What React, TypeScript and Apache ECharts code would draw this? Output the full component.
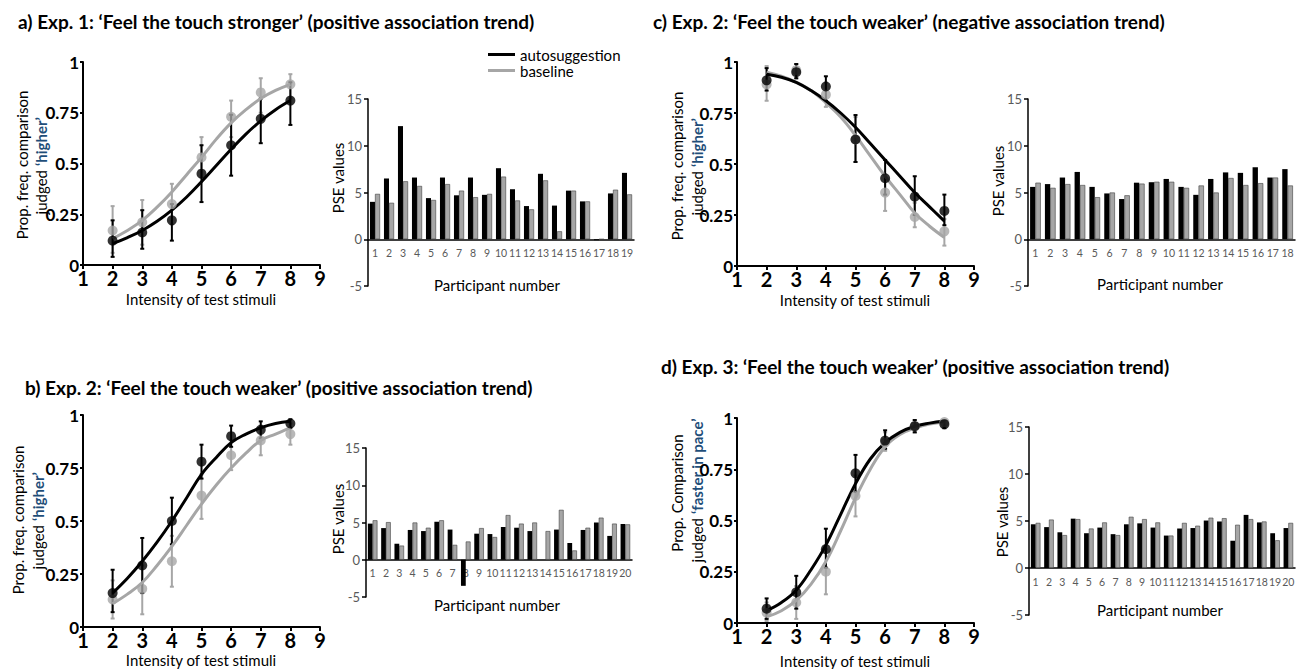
import React, { useEffect, useRef } from "react";
import * as echarts from "echarts";

// ---------- data ----------
const intensity = [2, 3, 4, 5, 6, 7, 8];
const fitX = [2, 2.5, 3, 3.5, 4, 4.5, 5, 5.5, 6, 6.5, 7, 7.5, 8];
const xTicks = [1, 2, 3, 4, 5, 6, 7, 8, 9];

// panel a (Exp. 1, stronger, positive)
const aAutoMean = [0.12, 0.16, 0.22, 0.45, 0.59, 0.72, 0.81];
const aAutoLo = [0.04, 0.08, 0.12, 0.31, 0.44, 0.6, 0.69];
const aAutoHi = [0.22, 0.27, 0.3, 0.59, 0.74, 0.82, 0.9];
const aBaseMean = [0.17, 0.21, 0.3, 0.53, 0.73, 0.85, 0.89];
const aBaseLo = [0.06, 0.1, 0.2, 0.43, 0.63, 0.75, 0.82];
const aBaseHi = [0.29, 0.32, 0.4, 0.63, 0.81, 0.92, 0.94];
const aAutoFit = [0.105, 0.135, 0.17, 0.215, 0.27, 0.335, 0.41, 0.49, 0.57, 0.645, 0.71, 0.765, 0.81];
const aBaseFit = [0.13, 0.17, 0.22, 0.285, 0.36, 0.445, 0.53, 0.62, 0.7, 0.765, 0.82, 0.86, 0.89];

// panel c (Exp. 2, weaker, negative)
const cAutoMean = [0.91, 0.95, 0.88, 0.62, 0.43, 0.34, 0.27];
const cAutoLo = [0.86, 0.92, 0.81, 0.51, 0.35, 0.25, 0.2];
const cAutoHi = [0.97, 0.99, 0.93, 0.74, 0.52, 0.44, 0.35];
const cBaseMean = [0.89, 0.96, 0.84, 0.62, 0.36, 0.24, 0.17];
const cBaseLo = [0.81, 0.92, 0.78, 0.51, 0.27, 0.19, 0.1];
const cBaseHi = [0.98, 0.99, 0.9, 0.73, 0.45, 0.31, 0.23];
const cAutoFit = [0.94, 0.925, 0.9, 0.86, 0.81, 0.75, 0.68, 0.6, 0.52, 0.44, 0.36, 0.29, 0.22];
const cBaseFit = [0.95, 0.93, 0.9, 0.86, 0.8, 0.73, 0.64, 0.54, 0.44, 0.35, 0.26, 0.195, 0.14];

// panel b (Exp. 2, weaker, positive)
const bAutoMean = [0.16, 0.29, 0.5, 0.78, 0.9, 0.93, 0.96];
const bAutoLo = [0.07, 0.16, 0.39, 0.7, 0.85, 0.89, 0.94];
const bAutoHi = [0.27, 0.42, 0.61, 0.86, 0.95, 0.97, 0.98];
const bBaseMean = [0.13, 0.18, 0.31, 0.62, 0.81, 0.88, 0.91];
const bBaseLo = [0.04, 0.06, 0.19, 0.51, 0.74, 0.81, 0.86];
const bBaseHi = [0.22, 0.29, 0.43, 0.72, 0.88, 0.95, 0.96];
const bAutoFit = [0.16, 0.23, 0.31, 0.4, 0.5, 0.61, 0.72, 0.8, 0.87, 0.91, 0.94, 0.96, 0.97];
const bBaseFit = [0.11, 0.155, 0.21, 0.29, 0.38, 0.48, 0.58, 0.67, 0.75, 0.82, 0.88, 0.91, 0.94];

// panel d (Exp. 3, weaker, positive)
const dAutoMean = [0.07, 0.15, 0.36, 0.73, 0.89, 0.96, 0.97];
const dAutoLo = [0.02, 0.07, 0.27, 0.64, 0.85, 0.93, 0.95];
const dAutoHi = [0.12, 0.23, 0.46, 0.82, 0.94, 0.99, 0.99];
const dBaseMean = [0.05, 0.1, 0.25, 0.62, 0.88, 0.96, 0.98];
const dBaseLo = [0.01, 0.02, 0.14, 0.52, 0.84, 0.93, 0.96];
const dBaseHi = [0.1, 0.18, 0.36, 0.72, 0.93, 0.99, 0.99];
const dAutoFit = [0.06, 0.1, 0.16, 0.26, 0.38, 0.53, 0.68, 0.8, 0.88, 0.93, 0.96, 0.975, 0.985];
const dBaseFit = [0.03, 0.06, 0.11, 0.19, 0.3, 0.45, 0.61, 0.75, 0.86, 0.92, 0.95, 0.97, 0.98];

// PSE bar data
const aParticipants = ["1","2","3","4","5","6","7","8","9","10","11","12","13","14","15","16","17","18","19"];
const aPseAuto = [4.0, 6.5, 12.1, 6.6, 4.4, 6.6, 4.7, 6.6, 4.75, 7.6, 5.35, 3.55, 7.0, 3.6, 5.2, 4.05, -0.1, 4.9, 7.1];
const aPseBase = [4.85, 3.9, 6.2, 5.7, 4.2, 5.9, 5.2, 4.5, 4.85, 6.7, 4.15, 3.2, 6.3, 0.85, 5.2, 4.05, 0.0, 5.3, 4.8];

const cParticipants = ["1","2","3","4","5","6","7","8","9","10","11","12","13","14","15","16","17","18"];
const cPseAuto = [5.6, 5.9, 6.6, 7.2, 5.6, 4.9, 4.3, 6.05, 6.1, 6.45, 5.6, 4.75, 6.45, 7.15, 7.1, 7.7, 6.6, 7.5];
const cPseBase = [6.05, 5.5, 5.9, 5.8, 4.5, 5.0, 4.7, 5.95, 6.15, 6.15, 5.5, 5.75, 5.0, 6.55, 5.8, 6.0, 6.6, 5.75];

const bParticipants = ["1","2","3","4","5","6","7","8","9","10","11","12","13","14","15","16","17","18","19","20"];
const bPseAuto = [4.85, 4.25, 2.15, 4.0, 3.85, 5.1, 4.05, -3.5, 3.5, 3.45, 4.4, 4.3, 3.85, 0, 4.05, 2.25, 4.0, 5.0, 3.2, 4.8];
const bPseBase = [5.3, 5.05, 1.9, 5.0, 4.3, 5.3, 2.0, 2.45, 4.25, 3.05, 6.0, 4.85, 5.0, 3.85, 6.7, 1.25, 4.3, 5.65, 4.85, 4.75];

const dParticipants = ["1","2","3","4","5","6","7","8","9","10","11","12","13","14","15","16","17","18","19","20"];
const dPseAuto = [4.65, 4.35, 3.8, 5.25, 3.7, 4.3, 3.6, 4.65, 4.75, 4.3, 3.45, 4.2, 4.25, 5.05, 4.95, 2.9, 5.65, 4.85, 3.7, 4.25];
const dPseBase = [4.8, 5.15, 3.5, 5.2, 4.2, 4.85, 3.5, 5.45, 5.2, 4.85, 3.45, 4.8, 4.5, 5.35, 5.3, 4.6, 5.2, 4.95, 2.95, 4.8];

const titles = [
  "a) Exp. 1: \u2018Feel the touch stronger\u2019 (positive association trend)",
  "c) Exp. 2: \u2018Feel the touch weaker\u2019 (negative association trend)",
  "b) Exp. 2: \u2018Feel the touch weaker\u2019 (positive association trend)",
  "d) Exp. 3: \u2018Feel the touch weaker\u2019 (positive association trend)",
];

// ---------- styles ----------
const BLACK = "#000000";
const GRAY = "#a6a6a6";
const FONT = "Lato, 'Open Sans', sans-serif";
const BLUE = "#1f4e79";

const zip = (xs: number[], ys: number[]) => xs.map((x, i) => [x, ys[i]]);
const zip3 = (xs: number[], lo: number[], hi: number[]) => xs.map((x, i) => [x, lo[i], hi[i]]);

function errorSeries(idx: number, lo: number[], hi: number[], color: string, z: number) {
  return {
    type: "custom",
    xAxisIndex: idx,
    yAxisIndex: idx,
    z,
    silent: true,
    data: zip3(intensity, lo, hi),
    renderItem: (params: any, api: any) => {
      const x = api.value(0);
      const p1 = api.coord([x, api.value(1)]);
      const p2 = api.coord([x, api.value(2)]);
      const cw = 2;
      const st = { stroke: color, lineWidth: 2 };
      return {
        type: "group",
        children: [
          { type: "line", shape: { x1: p1[0], y1: p1[1], x2: p2[0], y2: p2[1] }, style: st },
          { type: "line", shape: { x1: p1[0] - cw, y1: p1[1], x2: p1[0] + cw, y2: p1[1] }, style: st },
          { type: "line", shape: { x1: p2[0] - cw, y1: p2[1], x2: p2[0] + cw, y2: p2[1] }, style: st },
        ],
      };
    },
  };
}

function curveSeries(
  idx: number,
  autoMean: number[], autoLo: number[], autoHi: number[], autoFit: number[],
  baseMean: number[], baseLo: number[], baseHi: number[], baseFit: number[]
) {
  return [
    errorSeries(idx, baseLo, baseHi, GRAY, 3),
    errorSeries(idx, autoLo, autoHi, BLACK, 4),
    {
      type: "line", name: "baseline", xAxisIndex: idx, yAxisIndex: idx, z: 5,
      data: zip(fitX, baseFit), smooth: 0.4,
      showSymbol: false, color: GRAY, lineStyle: { color: GRAY, width: 3 },
    },
    {
      type: "line", name: "autosuggestion", xAxisIndex: idx, yAxisIndex: idx, z: 6,
      data: zip(fitX, autoFit), smooth: 0.4,
      showSymbol: false, color: BLACK, lineStyle: { color: BLACK, width: 3 },
    },
    {
      type: "scatter", name: "base pts", xAxisIndex: idx, yAxisIndex: idx, z: 7,
      data: zip(intensity, baseMean), symbolSize: 10, itemStyle: { color: GRAY },
    },
    {
      type: "scatter", name: "auto pts", xAxisIndex: idx, yAxisIndex: idx, z: 8,
      data: zip(intensity, autoMean), symbolSize: 10, itemStyle: { color: BLACK },
    },
  ];
}

function barSeries(idx: number, auto: number[], base: number[]) {
  return [
    {
      type: "bar", name: "PSE auto", xAxisIndex: idx, yAxisIndex: idx, data: auto,
      barWidth: "36%", barGap: "0%", itemStyle: { color: BLACK },
    },
    {
      type: "bar", name: "PSE base", xAxisIndex: idx, yAxisIndex: idx, data: base,
      barWidth: "36%", barGap: "0%",
      itemStyle: { color: GRAY, borderColor: "#404040", borderWidth: 0.6 },
    },
  ];
}

const curveGrids = [
  { left: 83, top: 62, width: 237, height: 203 },
  { left: 737, top: 62, width: 237, height: 204 },
  { left: 83, top: 415, width: 237, height: 212 },
  { left: 737, top: 418, width: 237, height: 205 },
];
const barGrids = [
  { left: 368, top: 99, width: 266, height: 187 },
  { left: 1028, top: 99, width: 267, height: 187 },
  { left: 366, top: 448, width: 266, height: 149 },
  { left: 1029, top: 427, width: 266, height: 188 },
];

function curveXAxis(i: number) {
  return {
    type: "value", gridIndex: i, min: xTicks[0], max: xTicks[xTicks.length - 1], interval: 1,
    axisLine: { show: true, onZero: false, lineStyle: { color: BLACK, width: 2 } },
    axisTick: { show: true, length: 4, lineStyle: { color: BLACK, width: 2 } },
    axisLabel: { color: BLACK, fontSize: 20, fontWeight: "bold", fontFamily: FONT, margin: 3 },
    splitLine: { show: false },
  };
}
function curveYAxis(i: number) {
  return {
    type: "value", gridIndex: i, min: 0, max: 1, interval: 0.25,
    axisLine: { show: true, onZero: false, lineStyle: { color: BLACK, width: 2 } },
    axisTick: { show: true, length: 3, lineStyle: { color: BLACK, width: 2 } },
    axisLabel: { color: BLACK, fontSize: 17, fontWeight: "bold", fontFamily: FONT, margin: 4 },
    splitLine: { show: false },
  };
}
function barXAxis(i: number, cats: string[], gridHeight: number) {
  // zero sits one quarter of the way up a -5..15 axis
  return {
    type: "category", gridIndex: i, data: cats,
    offset: -gridHeight / 4,
    axisLine: { show: true, onZero: false, lineStyle: { color: BLACK, width: 1.5 } },
    axisTick: { show: false },
    axisLabel: { color: "#595959", fontSize: 10.5, fontFamily: FONT, margin: 8, interval: 0 },
    splitLine: { show: false },
  };
}
function barYAxis(i: number) {
  return {
    type: "value", gridIndex: i, min: -5, max: 15, interval: 5,
    axisLine: { show: true, onZero: false, lineStyle: { color: BLACK, width: 1.5 } },
    axisTick: { show: true, length: 4, lineStyle: { color: BLACK, width: 1.5 } },
    axisLabel: { color: "#595959", fontSize: 13, fontFamily: FONT, margin: 6 },
    splitLine: { show: false },
  };
}

function txt(x: number, y: number, text: string, size: number, opts: any = {}) {
  return {
    type: "text", x, y, rotation: opts.rotation || 0, silent: true,
    style: {
      text, fontSize: size, fontFamily: FONT, fill: opts.color || BLACK,
      fontWeight: opts.bold ? "bold" : "normal",
      align: opts.align || "center", verticalAlign: "middle",
    },
  };
}

// two-part rotated label: "judged" (plain) + quoted word (bold blue), split at y
function judged(x: number, splitY: number, word: string) {
  const R = Math.PI / 2;
  return [
    txt(x, splitY + 3, "judged", 15, { rotation: R, align: "right" }),
    txt(x, splitY - 1, word, 15, { rotation: R, align: "left", bold: true, color: BLUE }),
  ];
}

export default function App() {
  const ref = useRef<HTMLDivElement>(null);
  useEffect(() => {
    if (!ref.current) return;
    const chart = echarts.init(ref.current, undefined, { renderer: "svg" });
    const R = Math.PI / 2;
    const option: any = {
      animation: false,
      backgroundColor: "#ffffff",
      legend: {
        data: ["autosuggestion", "baseline"],
        left: 488, top: 47, orient: "vertical", padding: 0,
        itemWidth: 27, itemHeight: 3, itemGap: 1, icon: "rect", selectedMode: false,
        textStyle: { fontSize: 15, fontFamily: FONT, color: BLACK },
      },
      grid: [...curveGrids, ...barGrids],
      xAxis: [
        curveXAxis(0), curveXAxis(1), curveXAxis(2), curveXAxis(3),
        barXAxis(4, aParticipants, barGrids[0].height),
        barXAxis(5, cParticipants, barGrids[1].height),
        barXAxis(6, bParticipants, barGrids[2].height),
        barXAxis(7, dParticipants, barGrids[3].height),
      ],
      yAxis: [
        curveYAxis(0), curveYAxis(1), curveYAxis(2), curveYAxis(3),
        barYAxis(4), barYAxis(5), barYAxis(6), barYAxis(7),
      ],
      graphic: [
        txt(18, 21, titles[0], 19, { bold: true, align: "left" }),
        txt(653, 21, titles[1], 19, { bold: true, align: "left" }),
        txt(25, 387, titles[2], 19, { bold: true, align: "left" }),
        txt(661, 366, titles[3], 19, { bold: true, align: "left" }),
        // curve axis names
        txt(201, 299, "Intensity of test stimuli", 15),
        txt(855, 300, "Intensity of test stimuli", 15),
        txt(201, 660, "Intensity of test stimuli", 15),
        txt(855, 661, "Intensity of test stimuli", 15),
        txt(22, 165, "Prop. freq. comparison", 15, { rotation: R }),
        ...judged(41, 167, "\u2018higher\u2019"),
        txt(677, 166, "Prop. freq. comparison", 15, { rotation: R }),
        ...judged(697, 168, "\u2018higher\u2019"),
        txt(18, 520, "Prop. freq. comparison", 15, { rotation: R }),
        ...judged(38, 522, "\u2018higher\u2019"),
        txt(677, 493, "Prop. Comparison", 15, { rotation: R }),
        ...judged(697, 515, "\u2018faster in pace\u2019"),
        // bar axis names
        txt(338, 178, "PSE values", 15, { rotation: R }),
        txt(998, 181, "PSE values", 15, { rotation: R }),
        txt(338, 519, "PSE values", 15, { rotation: R }),
        txt(1002, 522, "PSE values", 15, { rotation: R }),
        txt(497, 285, "Participant number", 15),
        txt(1160, 284, "Participant number", 15),
        txt(497, 605, "Participant number", 15),
        txt(1160, 610, "Participant number", 15),
      ],
      series: [
        ...curveSeries(0, aAutoMean, aAutoLo, aAutoHi, aAutoFit, aBaseMean, aBaseLo, aBaseHi, aBaseFit),
        ...curveSeries(1, cAutoMean, cAutoLo, cAutoHi, cAutoFit, cBaseMean, cBaseLo, cBaseHi, cBaseFit),
        ...curveSeries(2, bAutoMean, bAutoLo, bAutoHi, bAutoFit, bBaseMean, bBaseLo, bBaseHi, bBaseFit),
        ...curveSeries(3, dAutoMean, dAutoLo, dAutoHi, dAutoFit, dBaseMean, dBaseLo, dBaseHi, dBaseFit),
        ...barSeries(4, aPseAuto, aPseBase),
        ...barSeries(5, cPseAuto, cPseBase),
        ...barSeries(6, bPseAuto, bPseBase),
        ...barSeries(7, dPseAuto, dPseBase),
      ],
    };
    chart.setOption(option);
    return () => chart.dispose();
  }, []);
  return (
    <div
      ref={ref}
      style={{ position: "absolute", left: 0, top: 0, width: 1306, height: 669, background: "#fff" }}
    />
  );
}
